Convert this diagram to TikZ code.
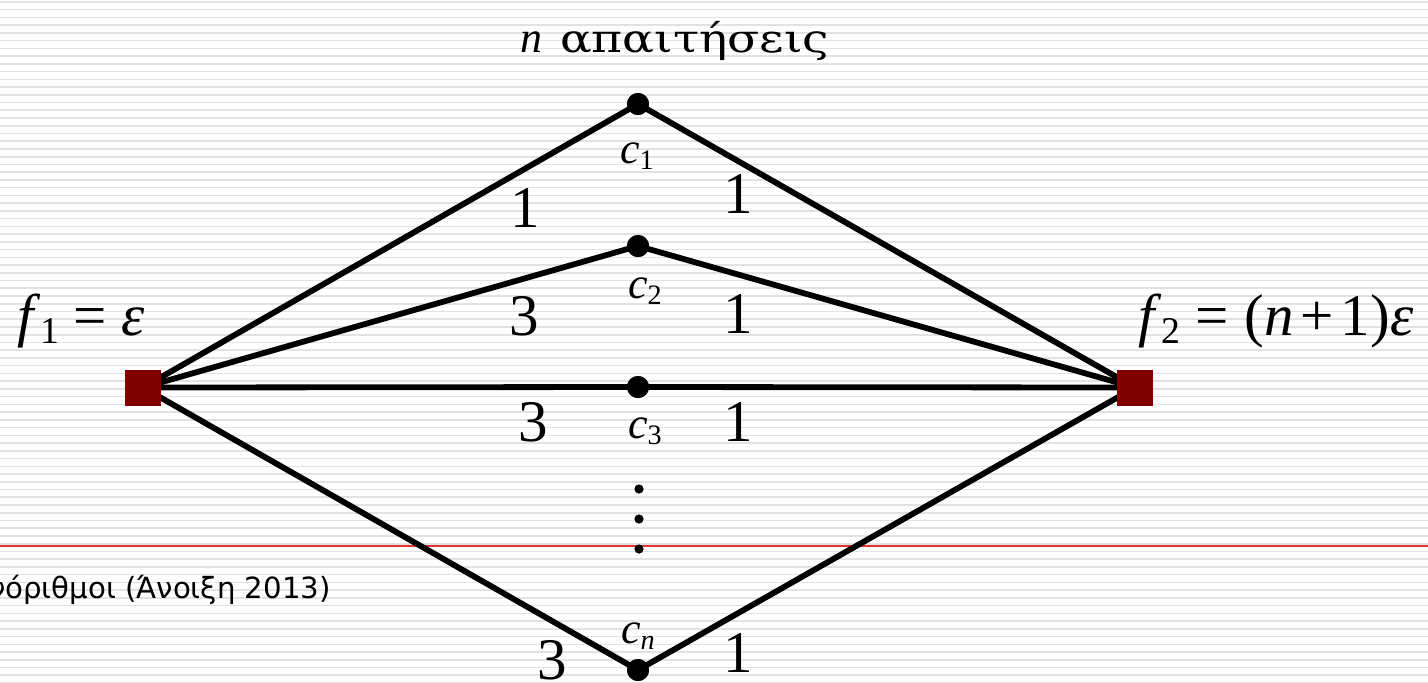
\documentclass[tikz,border=0pt]{standalone}
\usepackage{fontspec}
\setmainfont{Liberation Serif}
\newfontfamily\uifont{DejaVu Sans}
\newfontfamily\grkfont{DejaVu Serif}
\definecolor{sqred}{RGB}{128,0,0}
\definecolor{stripegray}{RGB}{226,226,226}
\definecolor{rulered}{RGB}{226,52,52}
\newcommand{\sbs}[2]{\textit{#1}\raisebox{-0.14em}{\scalebox{0.64}{#2}}}
\tikzset{
  edge/.style={line width=2.9pt},
  cdot/.style={circle, fill=black, inner sep=0pt, minimum size=11pt},
  smalldot/.style={circle, fill=black, inner sep=0pt, minimum size=4.6pt},
  sq/.style={rectangle, fill=sqred, inner sep=0pt, minimum size=18pt},
  clab/.style={anchor=base, inner sep=0pt, font=\fontsize{22}{26}\selectfont},
  wlab/.style={anchor=base, inner sep=0pt, font=\fontsize{29.5}{34}\selectfont},
  flab/.style={anchor=base west, inner sep=0pt, font=\fontsize{29.5}{34}\selectfont},
  stripe/.style={stripegray, line width=0.8pt},
}
\begin{document}
\begin{tikzpicture}[x=0.5pt,y=-0.5pt]
\useasboundingbox (0,0) rectangle (1428,682);
\fill[white] (0,0) rectangle (1428,682);
\foreach \i in {0,...,88} {
  \draw[stripe] (0,{1.9+7.74*\i}) -- (1428,{1.9+7.74*\i});
}
\draw[rulered, line width=0.6pt] (0,546) -- (1428,546);
% footer text
\node[anchor=base east, inner sep=0pt, font=\uifont\fontsize{14.6}{17}\selectfont] (foot) at (331,598) {νόριθμοι (Άνοιξη 2013)};
% nodes
\coordinate (L) at (143,387.5);
\coordinate (R) at (1135,387.5);
\node[cdot] (c1) at (638,104) {};
\node[cdot] (c2) at (638,246) {};
\node[cdot] (c3) at (638,387) {};
\node[cdot] (cn) at (638,670) {};
% edges
\draw[edge] (L) -- (c1.center) -- (R);
\draw[edge] (L) -- (c2.center) -- (R);
\draw[edge] (L) -- (c3.center) -- (R);
\draw[edge] (L) -- (cn.center) -- (R);
\node[cdot] at (c1) {};
\node[cdot] at (c2) {};
\node[cdot] at (c3) {};
\node[cdot] at (cn) {};
\node[sq] (Lsq) at (L) {};
\node[sq] (Rsq) at (R) {};
% vertical dots
\node[smalldot] (d1) at (639,489) {};
\node[smalldot] (d2) at (639,519) {};
\node[smalldot] (d3) at (639,549) {};
% labels
\node[anchor=base west, inner sep=0pt, font=\fontsize{22}{26}\selectfont] (title) at (520,52) {\textit{n}\hspace{0.4em}\scalebox{1.21}[1]{\grkfont\fontsize{19.5}{24}\selectfont απαιτήσεις}};
\node[clab] (lc1) at (637,163) {\sbs{c}{1}};
\node[clab] (lc2) at (645,298) {\sbs{c}{2}};
\node[clab] (lc3) at (645,438) {\sbs{c}{3}};
\node[clab] (lcn) at (638,643) {\sbs{c}{\textit{n}}};
\node[wlab] (w11) at (525,227) {1};
\node[wlab] (w12) at (738,213) {1};
\node[wlab] (w21) at (524,335) {3};
\node[wlab] (w22) at (738,333) {1};
\node[wlab] (w31) at (533,441) {3};
\node[wlab] (w32) at (738,441) {1};
\node[wlab] (wn1) at (552,679) {3};
\node[wlab] (wn2) at (738,672) {1};
\node[flab] (f1) at (17,335) {\sbs{f}{1}\hspace{0.24em}=\hspace{0.24em}\textit{ε}};
\node[flab] (f2) at (1138,335) {\sbs{f}{2}\hspace{0.26em}=\hspace{0.26em}(\textit{n}\hspace{0.12em}+\hspace{0.12em}1)\textit{ε}};
\end{tikzpicture}
\end{document}
